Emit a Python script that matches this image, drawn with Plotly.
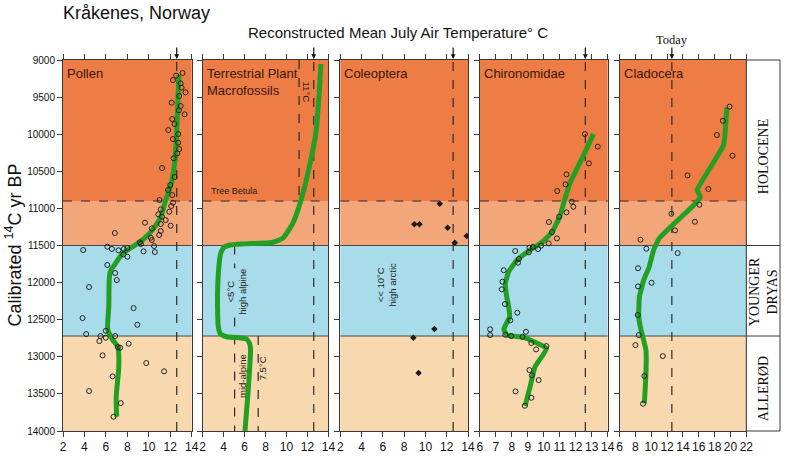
import plotly.graph_objects as go

# ---------------- data ----------------
pollen_T = [13.14, 12.55, 12.25, 12.96, 13.05, 13.42, 12.83, 12.13, 12.96, 12.80, 13.33, 12.18, 12.40, 11.81,
            12.74, 12.25, 12.74, 12.83, 12.65, 12.31, 11.23, 12.40, 12.00, 11.79, 12.18, 12.25, 11.00, 12.09,
            11.11, 11.91, 10.89, 11.23, 11.57, 9.64, 11.11, 12.03, 10.28, 11.11, 6.83, 10.96, 10.19, 10.28,
            9.17, 10.49, 9.26, 6.13, 6.56, 7.17, 7.66, 8.00, 3.88, 9.51, 10.56, 7.63, 8.00, 6.13, 6.86, 7.01,
            4.43, 8.58, 3.82, 8.93, 4.16, 5.99, 5.50, 5.39, 5.99, 6.86, 8.12, 7.11, 7.33, 5.69, 9.76, 11.42,
            6.62, 4.43, 7.38, 6.71]
pollen_age = [9175, 9211, 9270, 9315, 9373, 9436, 9485, 9575, 9620, 9678, 9732, 9795, 9863, 9944,
              9998, 10065, 10115, 10200, 10258, 10325, 10456, 10577, 10685, 10752, 10820, 10923, 10887, 10968,
              11013, 11045, 11080, 11112, 11157, 11193, 11211, 11234, 11269, 11305, 11332, 11359, 11395, 11426,
              11457, 11507, 11480, 11516, 11547, 11565, 11547, 11534, 11561, 11579, 11588, 11619, 11651, 11763,
              11871, 11966, 12060, 12343, 12478, 12568, 12694, 12649, 12720, 12788, 12743, 12720, 12824, 12869,
              12878, 12981, 13084, 13196, 13264, 13462, 13624, 13808]
pollen_curve_T = [12.8, 12.71, 12.59, 12.4, 12.09, 11.57, 11.11, 10.34, 9.41, 8.49, 7.57, 6.8, 6.4, 6.27,
                  6.18, 6.65, 7.11, 7.2, 6.96, 7.01]
pollen_curve_age = [9200, 9540, 9988, 10393, 10662, 10887, 11112, 11292, 11426, 11516, 11606, 11763, 11853,
                    12325, 12640, 12775, 12865, 13135, 13539, 13808]

plant_curve_T = [13.28, 13.12, 12.8, 12.18, 11.39, 10.6, 9.66, 8.6, 6.0, 4.62, 4.0, 3.7, 3.55, 3.45,
                 3.42, 3.5, 3.7, 4.3, 5.5, 6.19, 6.5, 6.57, 6.35, 6.04]
plant_curve_age = [9054, 9449, 9988, 10438, 10887, 11201, 11400, 11460, 11478, 11494, 11530, 11620, 11786,
                   12000, 12325, 12600, 12690, 12730, 12745, 12760, 12830, 12909, 13449, 14000]

coleo_T = [11.34, 8.96, 9.44, 12.08, 13.88, 12.76, 10.84, 8.86, 9.35]
coleo_age = [10937, 11215, 11215, 11260, 11372, 11462, 12626, 12743, 13219]

chiro_T = [12.57, 13.38, 12.82, 11.42, 11.36, 10.84, 11.75, 11.85, 11.42, 10.96, 10.32, 10.51, 10.82, 10.30,
           9.83, 9.64, 9.31, 9.10, 9.06, 8.21, 8.44, 8.38, 7.49, 7.41, 7.37, 7.57, 8.34, 7.90, 6.64, 6.64,
           7.59, 7.95, 8.88, 8.67, 9.22, 10.16, 9.52, 9.10, 9.25, 9.68, 8.23, 9.22, 8.81]
chiro_age = [9998, 10168, 10393, 10541, 10676, 10766, 10910, 10978, 11053, 11112, 11184, 11319, 11404, 11471,
             11503, 11547, 11520, 11530, 11592, 11575, 11682, 11732, 11833, 11988, 12091, 12289, 12406, 12509,
             12630, 12707, 12703, 12720, 12663, 12730, 12815, 12855, 12900, 13179, 13250, 13314, 13466, 13552,
             13660]
chiro_curve_T = [13.11, 12.45, 11.63, 11.27, 11.0, 10.49, 9.87, 9.14, 8.32, 7.8, 7.59, 7.66, 7.8, 7.86,
                 7.49, 7.7, 8.73, 10.18, 9.45, 9.14, 8.83]
chiro_curve_age = [9998, 10303, 10662, 10910, 11112, 11328, 11460, 11561, 11696, 11853, 12010, 12168, 12325,
                   12460, 12630, 12707, 12738, 12886, 13134, 13404, 13660]

clado_T = [19.88, 19.04, 18.29, 20.25, 14.58, 17.21, 16.08, 12.54, 15.5, 13.0, 8.63, 9.38, 13.33, 8.33,
           10.04, 8.33, 8.29, 8.42, 8.0, 11.46, 9.13, 8.96]
clado_age = [9629, 9818, 10011, 10290, 10555, 10739, 10951, 11072, 11180, 11296, 11422, 11543, 11602, 11806,
             12002, 12051, 12437, 12707, 12842, 12990, 13259, 13633]
clado_curve_T = [19.54, 19.13, 15.79, 16.21, 15.17, 12.46, 11.0, 10.29, 9.75, 9.04, 8.5, 8.42, 8.71, 9.33,
                 9.33, 9.13]
clado_curve_age = [9638, 10146, 10752, 10843, 10978, 11247, 11404, 11561, 11786, 11966, 12191, 12460, 12640,
                   12909, 13223, 13628]

panel_names = ["Pollen", "Terrestrial Plant<br>Macrofossils", "Coleoptera", "Chironomidae", "Cladocera"]
x_ranges = [[2, 14], [2, 14], [2, 14], [6, 14], [6, 22]]
x_dticks = [2, 2, 2, 1, 2]
today_T = 12.6
age_ticks = [9000, 9500, 10000, 10500, 11000, 11500, 12000, 12500, 13000, 13500, 14000]

# zones: (top, bottom, colour)
zones = [(9000, 10900, "#EE7D45"), (10900, 11500, "#F3A679"),
         (11500, 12720, "#A9DCEA"), (12720, 14000, "#F8D8AE")]

# ---------------- layout geometry ----------------
W, H = 789, 459
ml, mt = 63, 60
plot_right, plot_bottom = 787, 431
mr, mb = W - plot_right, H - plot_bottom
pw = W - ml - mr
ph = H - mt - mb
def px2paper_x(px):
    return (px - ml) / pw
def px2paper_y(py):
    return (plot_bottom - py) / ph

panel_px = [(63, 193), (204, 331), (343, 472), (484, 613), (625, 753)]
GREEN = "#23A023"
FRAME = "#3a3a3a"

fig = go.Figure()
suffixes = ["", "2", "3", "4", "5"]

def add(trace, i):
    s = suffixes[i]
    trace.update(xaxis="x" + s, yaxis="y" + s)
    fig.add_trace(trace)

circ = dict(symbol="circle-open", size=5, color="#222222", line=dict(width=1))
add(go.Scatter(x=pollen_curve_T, y=pollen_curve_age, mode="lines",
               line=dict(color=GREEN, width=5, shape="spline", smoothing=0.8)), 0)
add(go.Scatter(x=pollen_T, y=pollen_age, mode="markers", marker=circ), 0)
add(go.Scatter(x=plant_curve_T, y=plant_curve_age, mode="lines",
               line=dict(color=GREEN, width=5, shape="spline", smoothing=0.5)), 1)
add(go.Scatter(x=coleo_T, y=coleo_age, mode="markers",
               marker=dict(symbol="diamond", size=5, color="#1a1a1a")), 2)
add(go.Scatter(x=chiro_curve_T, y=chiro_curve_age, mode="lines",
               line=dict(color=GREEN, width=5, shape="spline", smoothing=0.3)), 3)
add(go.Scatter(x=chiro_T, y=chiro_age, mode="markers", marker=circ), 3)
add(go.Scatter(x=clado_curve_T, y=clado_curve_age, mode="lines",
               line=dict(color=GREEN, width=5, shape="spline", smoothing=0.3)), 4)
add(go.Scatter(x=clado_T, y=clado_age, mode="markers", marker=circ), 4)

shapes = []
annotations = []
layout = {}
for i, s in enumerate(suffixes):
    x0p, x1p = panel_px[i]
    layout["xaxis" + s] = dict(
        domain=[px2paper_x(x0p), px2paper_x(x1p)], range=x_ranges[i], dtick=x_dticks[i],
        anchor="y" + s, showgrid=False, zeroline=False, showline=True, linecolor=FRAME,
        linewidth=1, mirror="ticks", ticks="outside", ticklen=5, tickcolor=FRAME,
        tickfont=dict(family="Liberation Sans", size=12, color="#111"))
    layout["yaxis" + s] = dict(
        domain=[0, 1], range=[14000, 9000], anchor="x" + s, tickvals=age_ticks,
        ticktext=[str(v) for v in age_ticks],
        showticklabels=(i == 0), showgrid=False, zeroline=False, showline=True,
        linecolor=FRAME, linewidth=1, mirror=True, ticks="outside", ticklen=5,
        tickcolor=FRAME, tickfont=dict(family="Liberation Sans", size=10, color="#111"))
    if i > 0:
        layout["yaxis" + s]["matches"] = "y"
    xd = "x" + s + " domain"
    # zone fills
    for (a, b, c) in zones:
        shapes.append(dict(type="rect", xref=xd, x0=0, x1=1, yref="y" + s, y0=a, y1=b,
                           fillcolor=c, line=dict(width=0), layer="below"))
    # boundaries
    for yb in [11500, 12720]:
        shapes.append(dict(type="line", xref=xd, x0=0, x1=1, yref="y" + s, y0=yb, y1=yb,
                           line=dict(color="#4a4a4a", width=1), layer="below"))
    shapes.append(dict(type="line", xref=xd, x0=0, x1=1, yref="y" + s, y0=10900, y1=10900,
                       line=dict(color="#2a2a2a", width=1.2, dash="dash"), layer="below"))
    # today line
    shapes.append(dict(type="line", xref="x" + s, x0=today_T, x1=today_T, yref="y" + s + " domain",
                       y0=0, y1=1, line=dict(color="#2a2a2a", width=1.2, dash="dash"), layer="below"))
    # today arrow
    annotations.append(dict(xref="x" + s, x=today_T, yref="paper", y=1, text="", showarrow=True,
                            ax=0, ay=-14, arrowhead=2, arrowsize=0.8, arrowwidth=1.2,
                            arrowcolor="#111", standoff=1))
    # panel name
    annotations.append(dict(xref=xd, x=0, yref="y" + s + " domain", y=1, xanchor="left", yanchor="top",
                            xshift=2, yshift=-4, text=panel_names[i], showarrow=False, align="left",
                            font=dict(family="Liberation Sans", size=13, color="#3a1606")))

# terrestrial plant threshold lines
shapes.append(dict(type="line", xref="x2", x0=11.2, x1=11.2, yref="y2", y0=9000, y1=10900,
                   line=dict(color="#2a2a2a", width=1.2, dash="dash"), layer="below"))
shapes.append(dict(type="line", xref="x2", x0=5.05, x1=5.05, yref="y2", y0=11500, y1=14000,
                   line=dict(color="#2a2a2a", width=1.2, dash="dash"), layer="below"))
shapes.append(dict(type="line", xref="x2", x0=7.3, x1=7.3, yref="y2", y0=12720, y1=14000,
                   line=dict(color="#2a2a2a", width=1.2, dash="dash"), layer="below"))

small = dict(family="Liberation Sans", size=9.5, color="#1a1a1a")
mid = dict(xanchor="center", yanchor="middle", showarrow=False)
annotations += [
    dict(xref="x2", yref="y2", x=2.6, y=10860, text="Tree Betula", xanchor="left", yanchor="bottom",
         showarrow=False, font=dict(family="Liberation Sans", size=9, color="#1a1a1a")),
    dict(xref="x2", yref="y2", x=11.9, y=9430, text="11°C", textangle=90, font=small, **mid),
    dict(xref="x2", yref="y2", x=5.2, y=12120, text="<5°C<br>high alpine", textangle=-90,
         font=small, bgcolor="#A9DCEA", borderpad=0, **mid),
    dict(xref="x2", yref="y2", x=5.75, y=13260, text="mid-alpine", textangle=-90, font=small, **mid),
    dict(xref="x2", yref="y2", x=7.8, y=13150, text="7.5°C", textangle=-90, font=small, **mid),
    dict(xref="x3", yref="y3", x=6.35, y=12030, text="<< 10°C<br>high arctic", textangle=-90,
         font=small, **mid),
]

# right stratigraphy box
bx0, bx1 = px2paper_x(753), 1.0
shapes.append(dict(type="rect", xref="paper", yref="paper", x0=bx0, x1=bx1, y0=0, y1=1,
                   line=dict(color=FRAME, width=1), fillcolor="white"))
for yb in [11500, 12720]:
    yp = (14000 - yb) / 5000
    shapes.append(dict(type="line", xref="paper", yref="paper", x0=bx0, x1=bx1, y0=yp, y1=yp,
                       line=dict(color=FRAME, width=1)))
serif = dict(family="Liberation Serif", size=14, color="#111")
bxc = px2paper_x(770)
annotations += [
    dict(xref="paper", yref="paper", x=bxc, y=px2paper_y(157), text="HOLOCENE", textangle=-90,
         font=serif, **mid),
    dict(xref="paper", yref="paper", x=bxc, y=px2paper_y(292), text="YOUNGER<br>DRYAS", textangle=-90,
         font=serif, **mid),
    dict(xref="paper", yref="paper", x=bxc, y=px2paper_y(389), text="ALLERØD", textangle=-90,
         font=serif, **mid),
]

# titles
annotations += [
    dict(xref="paper", yref="paper", x=px2paper_x(61), y=px2paper_y(13), xanchor="left", yanchor="middle",
         text="Kråkenes, Norway", showarrow=False,
         font=dict(family="Liberation Sans", size=18, color="#111")),
    dict(xref="paper", yref="paper", x=px2paper_x(401), y=px2paper_y(33),
         text="Reconstructed Mean July Air Temperature° C",
         font=dict(family="Liberation Sans", size=15, color="#111"), **mid),
    dict(xref="x5", yref="paper", x=today_T, y=px2paper_y(40),
         text="Today", font=dict(family="Liberation Serif", size=12.5, color="#111"), **mid),
    dict(xref="paper", yref="paper", x=px2paper_x(13), y=px2paper_y(245),
         text="Calibrated <sup>14</sup>C yr BP", textangle=-90,
         font=dict(family="Liberation Sans", size=18, color="#111"), **mid),
]

fig.update_layout(
    width=W, height=H, margin=dict(l=ml, r=mr, t=mt, b=mb),
    paper_bgcolor="white", plot_bgcolor="white", showlegend=False,
    shapes=shapes, annotations=annotations, **layout)

# remove the default 8px page margin so the figure fills the window exactly
fig.write_html("out.html", config={"displayModeBar": False},
               post_script="document.body.style.margin='0px';")
